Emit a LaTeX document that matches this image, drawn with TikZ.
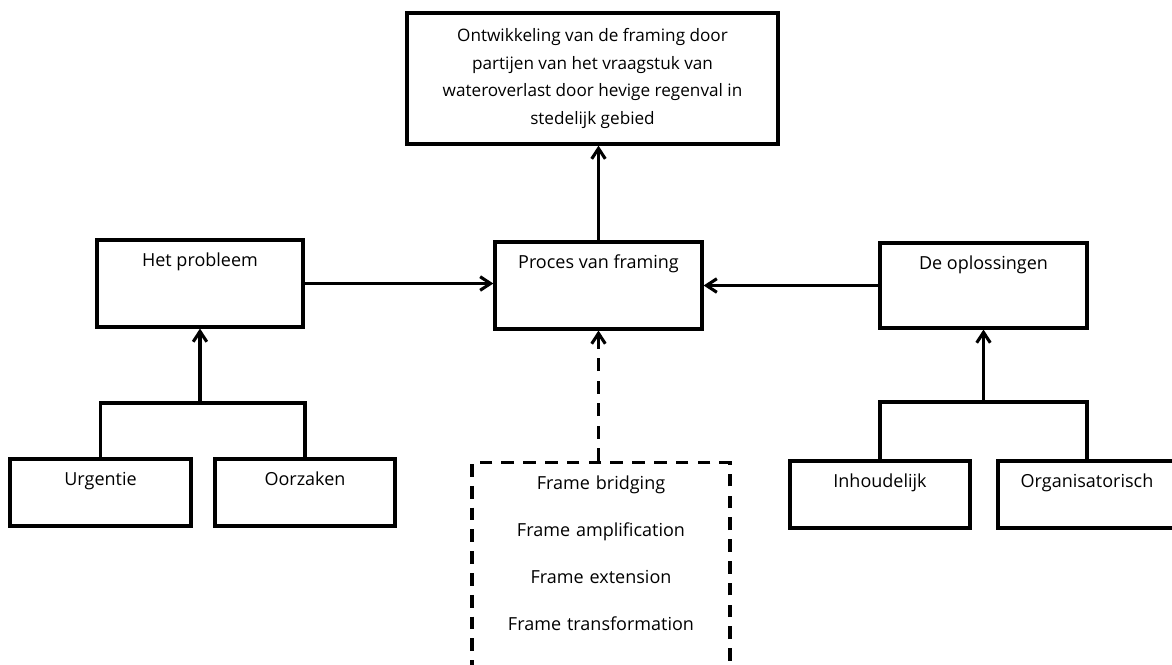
\documentclass[tikz,border=0pt]{standalone}
\usepackage{fontspec}
\setmainfont{Open Sans}
\usetikzlibrary{arrows.meta}

\begin{document}
\begin{tikzpicture}[
  x=0.025cm, y=-0.025cm,
  box/.style={rectangle, draw, line width=2.3pt, inner sep=0pt, minimum width=5.15cm, text height=0.65cm, text depth=1.52cm, font=\fontsize{12.8}{14}\selectfont},
  leaf/.style={box, minimum width=4.5cm, text depth=1.02cm},
  dashbox/.style={rectangle, draw, line width=2.3pt, dash pattern=on 9pt off 6.5pt, inner sep=0pt, text width=6.45cm, align=center, text height=0.675cm, text depth=6cm, font=\fontsize{12.8}{33.4}\selectfont},
  ->, >={Straight Barb[length=2.6mm, width=3.4mm]}, line width=2.2pt
]
  \useasboundingbox (0,0) rectangle (1172,665);
  \clip (0,0) rectangle (1172,665);

  \node[box, minimum width=9.275cm, minimum height=3.275cm, text height=, text depth=, align=center, font=\fontsize{12.2}{19.9}\selectfont] (T) at (592.5,78.5)
    {Ontwikkeling van de framing door\\partijen van het vraagstuk van\\wateroverlast door hevige regenval in\\stedelijk gebied};

  \node[box] (P) at (200,283.5) {Het probleem};
  \node[box, minimum width=5.175cm] (F) at (598.5,285.5) {Proces van framing};
  \node[box, minimum width=5.175cm, text depth=1.47cm] (S) at (983.5,285.5) {De oplossingen};

  \node[leaf, minimum width=4.525cm] (U) at (100.5,492.5) {Urgentie};
  \node[leaf] (Oz) at (305,492.5) {Oorzaken};
  \node[leaf] (I) at (880,494.5) {Inhoudelijk};
  \node[leaf, minimum width=4.45cm] (Og) at (1087,494.5) {Organisatorisch};

  \node[dashbox, anchor=north] (D) at (601,461)
    {Frame bridging\\Frame amplification\\Frame extension\\Frame transformation};

  \coordinate (pj) at (200,403);
  \coordinate (sj) at (983.5,402);

  \draw (F.north) -- (F.north |- T.south);
  \draw (P.east) -- (P.east -| F.west);
  \draw (S.west) -- (S.west -| F.east);
  \draw[dash pattern=on 9pt off 7pt] (D.north -| F.south) -- (F.south);

  \draw[-] (U.north) |- (pj) -| (Oz.north);
  \draw (pj) -- (P.south);
  \draw[-] (I.north) |- (sj) -| (Og.north);
  \draw (sj) -- (S.south);
\end{tikzpicture}
\end{document}
